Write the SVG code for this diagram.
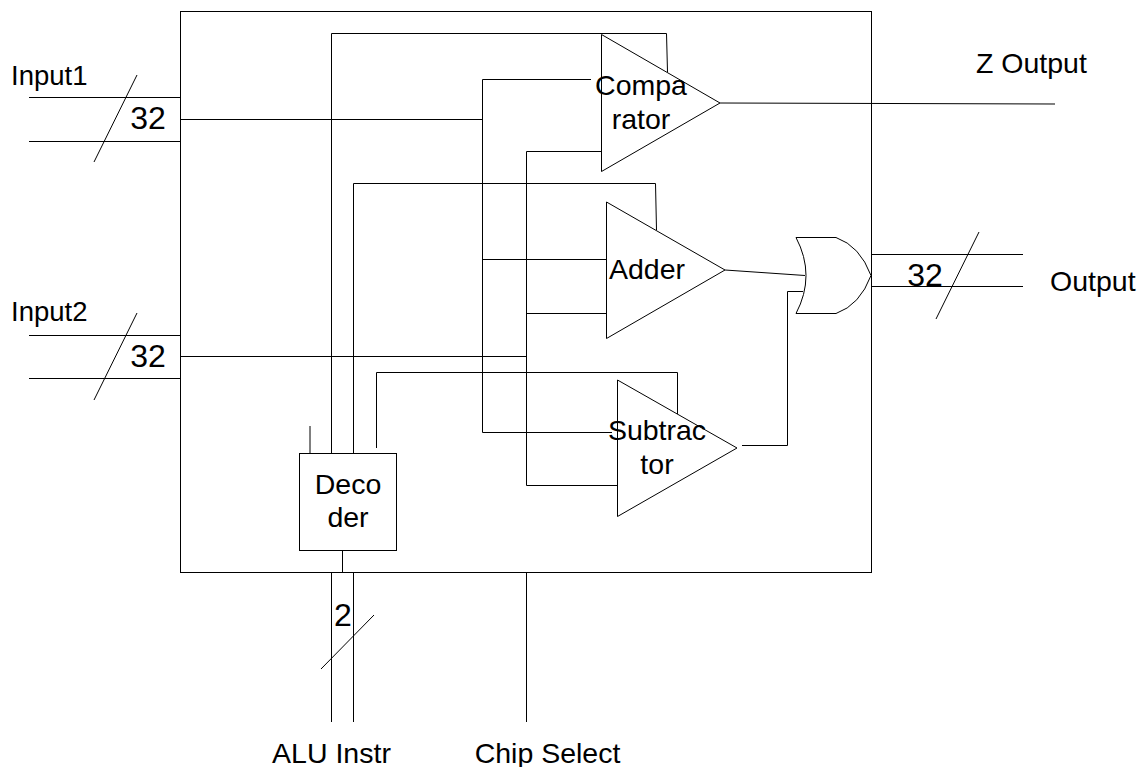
<svg xmlns="http://www.w3.org/2000/svg" width="1147" height="767" viewBox="0 0 1147 767">
<style>
.s{fill:none;stroke:#000;stroke-width:1}
.n{fill:#fff;stroke:#000;stroke-width:1}
text{font-family:"Liberation Sans",Arial,sans-serif;fill:#000}
.a{font-size:27.500px}
.b{font-size:28.500px}
.c{font-size:28.500px;text-anchor:middle}
.d{font-size:32px;text-anchor:middle}
</style>
<rect width="1147" height="767" fill="#fff"/>
<g id="chip"><rect class="s" x="180.500" y="11.500" width="691" height="561"/></g>
<g id="connectors">
<path class="s" d="M29 97.500H180.500M29 141.500H180.500M137 75L94 162"/>
<path class="s" d="M29 335.500H180.500M29 378.500H180.500M137 313L94 400"/>
<path class="s" d="M180.500 119.500H482.500M482.500 79.500H591M482.500 79.500V432.500H612"/>
<path class="s" d="M180.500 356.500H526.500M526.500 151.500H601M526.500 151.500V485.500H617"/>
<path class="s" d="M482.500 259.500H606M526.500 313.500H606"/>
<path class="s" d="M331.500 453V33.500H666.500L667.500 72"/>
<path class="s" d="M353.500 453V183.500H655.500L656.500 230"/>
<path class="s" d="M376.500 448V372.500H677.500V414"/>
<path class="s" d="M310 453V426"/>
<path class="s" d="M342.500 550V572.500"/>
<path class="s" d="M331.500 572.500V722M353.500 572.500V722M526.500 572.500V722M374 615L321 669"/>
<path class="s" d="M720 103L1055 104M725 270L805 275.500M742 445.500H787.500V291.500H803"/>
<path class="s" d="M872 254.500H1023M872 286.500H1023M979 232L936 319"/>
</g>
<g id="comparator"><path class="n" d="M601.500 34.500L720 103L601.500 171.500Z"/><text class="c" x="641" y="95">Compa</text><text class="c" x="641" y="129">rator</text></g>
<g id="adder"><path class="n" d="M606.500 202L725 270L606.500 338.500Z"/><text class="c" x="647" y="279">Adder</text></g>
<g id="subtractor"><path class="n" d="M617.500 380L737 448L617.500 516.500Z"/><text class="c" x="657" y="440">Subtrac</text><text class="c" x="657" y="474">tor</text></g>
<g id="or-gate"><path class="n" d="M796 237.500H836Q860 246 871 275.500Q860 305 836 313.500H796Q816 275.500 796 237.500Z"/></g>
<g id="decoder"><rect class="n" x="299.500" y="453.500" width="97" height="97"/><text class="c" x="348" y="494">Deco</text><text class="c" x="348" y="527">der</text></g>
<g id="labels">
<text class="a" x="11" y="85">Input1</text>
<text class="a" x="11" y="321">Input2</text>
<text class="d" x="148" y="129">32</text>
<text class="d" x="148" y="367">32</text>
<text class="d" x="925" y="286">32</text>
<text class="d" x="343" y="626">2</text>
<text class="b" x="976" y="73">Z Output</text>
<text class="b" x="1050" y="291">Output</text>
<text class="c" x="331.500" y="763">ALU Instr</text>
<text class="c" x="547.500" y="763">Chip Select</text>
</g>
</svg>
